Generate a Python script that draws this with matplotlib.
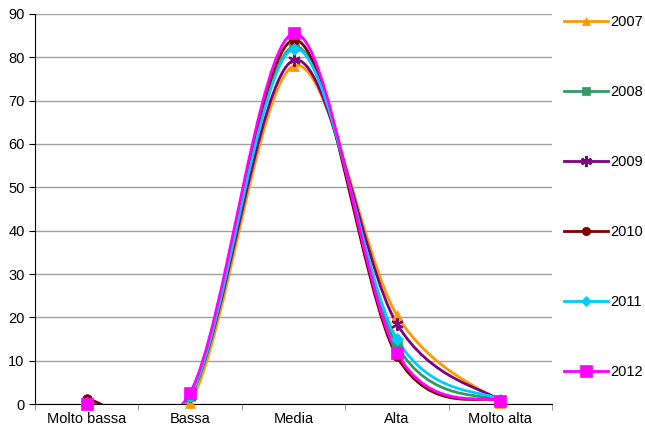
import numpy as np
import matplotlib
matplotlib.use("Agg")
import matplotlib.pyplot as plt
from matplotlib.path import Path
from matplotlib.patches import PathPatch

plt.rcParams['font.family'] = ['Liberation Sans', 'DejaVu Sans']

categories = ["Molto bassa", "Bassa", "Media", "Alta", "Molto alta"]
years = ["2007", "2008", "2009", "2010", "2011", "2012"]
v2007 = [0.0, 0.3, 78.0, 20.5, 0.3]
v2008 = [0.0, 1.8, 82.5, 13.5, 0.7]
v2009 = [0.3, 1.8, 79.3, 18.5, 0.8]
v2010 = [1.1, 2.2, 84.0, 11.0, 0.7]
v2011 = [0.2, 1.8, 82.0, 15.0, 1.0]
v2012 = [0.0, 2.6, 85.5, 11.8, 0.6]
series = [v2007, v2008, v2009, v2010, v2011, v2012]

colors = ["#FF9900", "#339966", "#800080", "#800000", "#00CCFF", "#FF00FF"]
markers = ["^", "s", (6, 2, 0), "o", "D", "s"]
msizes = [7, 7, 9, 7, 6, 9]

fig = plt.figure(figsize=(6.45, 4.33), dpi=100)
ax = fig.add_axes([35/645, 29/433, (552-35)/645, (404-14)/433])

x = np.arange(len(categories))

def smooth_path(xs, ys):
    pts = np.column_stack([xs, ys]).astype(float)
    n = len(pts)
    verts = [pts[0]]
    codes = [Path.MOVETO]
    for i in range(n - 1):
        p0 = pts[i - 1] if i > 0 else pts[i]
        p1 = pts[i]
        p2 = pts[i + 1]
        p3 = pts[i + 2] if i + 2 < n else pts[i + 1]
        c1 = p1 + (p2 - p0) / 6.0
        c2 = p2 - (p3 - p1) / 6.0
        verts += [c1, c2, p2]
        codes += [Path.CURVE4] * 3
    return Path(verts, codes)

handles = []
for s, c, m, ms, lab in zip(series, colors, markers, msizes, years):
    patch = PathPatch(smooth_path(x, s), facecolor='none', edgecolor=c, lw=2.0, zorder=3)
    ax.add_patch(patch)
    ax.plot(x, s, linestyle='none', marker=m, color=c, markersize=ms,
            markeredgewidth=1.5 if m == (6, 2, 0) else 0.5, zorder=4, clip_on=False)
    h, = ax.plot([], [], color=c, lw=2.0, marker=m, markersize=ms - 1,
                 markeredgewidth=1.5 if m == (6, 2, 0) else 0.5, label=lab)
    handles.append(h)

ax.set_xlim(-0.5, 4.5)
ax.set_ylim(0, 90)
ax.set_yticks(np.arange(0, 91, 10))
ax.set_xticks(x)
ax.set_xticklabels(categories)
ax.set_xticks(np.arange(-0.5, 4.6, 1), minor=True)
ax.tick_params(axis='x', which='major', length=0, labelsize=10.5, pad=6)
ax.tick_params(axis='x', which='minor', length=4, color='#888888')
ax.tick_params(axis='y', labelsize=10.5, length=4, direction='out')
ax.grid(axis='y', color='#A0A0A0', lw=1.0, zorder=0)
ax.set_axisbelow(True)
for sp in ['top', 'right']:
    ax.spines[sp].set_visible(False)
ax.spines['left'].set_color('black')
ax.spines['bottom'].set_color('black')

leg = fig.legend(handles=handles, loc='upper left', bbox_to_anchor=(558/645, 1 - 9/433),
                 frameon=False, fontsize=10.5, labelspacing=3.84, handlelength=3.0,
                 handletextpad=0.15, borderaxespad=0)

fig.savefig("out.png", dpi=100)
